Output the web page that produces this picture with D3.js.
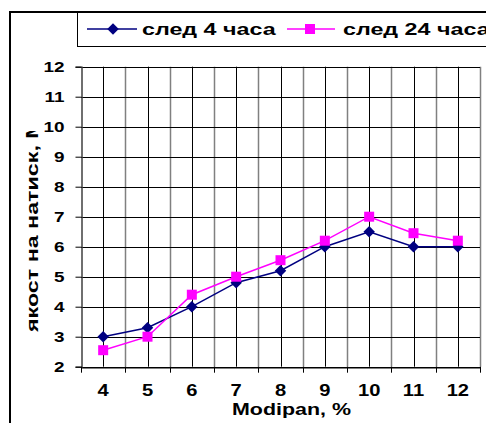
<!DOCTYPE html>
<html><head><meta charset="utf-8">
<script src="https://cdn.jsdelivr.net/npm/d3@7"></script>
<style>body{margin:0;background:#fff}svg{display:block}text{font-family:"Liberation Sans",Arial,sans-serif;font-weight:bold;fill:#000}</style>
</head><body>
<script>
const categories = ["4","5","6","7","8","9","10","11","12"];
const series4h = [3.0, 3.3, 4.0, 4.8, 5.2, 6.0, 6.5, 6.0, 6.0];
const series24h = [2.55, 3.0, 4.4, 5.0, 5.55, 6.2, 7.0, 6.45, 6.2];
const yTicks = [2,3,4,5,6,7,8,9,10,11,12];
const seriesNames = ["след 4 часа", "след 24 часа"];
const xTitle = "Modipan, %";
const yTitle = "якост на натиск, MPa";

const W = 486, H = 423;
const SL = 1.26, SC = 1.37;
const svg = d3.select("body").append("svg").attr("width", W).attr("height", H);
const m = {l:81, r:480, t:66.7, b:366.7};
const x = d3.scaleBand().domain(categories).range([m.l, m.r]);
const y = d3.scaleLinear().domain([2,12]).range([m.b, m.t]);
const cx = c => x(c)+x.bandwidth()/2;
const px = v => Math.round(v)+0.5;

// outer frame
svg.append("rect").attr("x",10).attr("y",12).attr("width",600).attr("height",600)
  .attr("fill","none").attr("stroke","#000").attr("stroke-width",2);

// grid
const g = svg.append("g");
g.selectAll(".vb").data(categories.slice(1).map(c=>x(c)).concat([m.r])).join("line")
  .attr("x1",px).attr("x2",px).attr("y1",m.t).attr("y2",m.b).attr("stroke","#808080").attr("stroke-width",1.5);
g.selectAll(".vc").data(categories).join("line")
  .attr("x1",d=>px(cx(d))).attr("x2",d=>px(cx(d))).attr("y1",m.t).attr("y2",m.b).attr("stroke","#000").attr("stroke-width",1);
g.selectAll(".hg").data(yTicks).join("line")
  .attr("x1",m.l).attr("x2",m.r)
  .attr("y1",d=>px(y(d))).attr("y2",d=>px(y(d)))
  .attr("stroke","#000").attr("stroke-width",1);

// y axis
const ya = svg.append("g").attr("transform",`translate(${px(m.l)},0)`)
  .call(d3.axisLeft(y).tickValues(yTicks).tickSize(6).tickPadding(11).tickFormat(d3.format("d")));
ya.select(".domain").attr("stroke","#404040").attr("stroke-width",1.5);
ya.selectAll(".tick line").attr("stroke","#000");
ya.selectAll("text").attr("font-size",15).attr("font-family","Liberation Sans").attr("font-weight","bold").attr("fill","#000")
  .attr("x",-17/SL).attr("transform",`scale(${SL},1)`);

// x axis
const xa = svg.append("g").attr("transform",`translate(0,${px(m.b)})`)
  .call(d3.axisBottom(x).tickSize(0).tickPadding(17));
xa.select(".domain").attr("stroke","#000");
xa.selectAll("text").attr("font-size",16).attr("font-family","Liberation Sans").attr("font-weight","bold").attr("fill","#000")
  .attr("transform",`scale(${SL},1)`);
svg.append("g").selectAll("line").data(categories.map(c=>x(c)).concat([m.r])).join("line")
  .attr("x1",px).attr("x2",px).attr("y1",m.b).attr("y2",m.b+6).attr("stroke","#000");

// titles
svg.append("text").attr("transform",`translate(291.5,415) scale(${SL},1)`).attr("text-anchor","middle")
  .attr("font-size",17).text(xTitle);
svg.append("clipPath").attr("id","yc").append("rect").attr("x",0).attr("y",131).attr("width",80).attr("height",300);
svg.append("g").attr("clip-path","url(#yc)").append("text")
  .attr("transform",`translate(38,332) rotate(-90) scale(${SC},1)`).attr("text-anchor","start")
  .attr("font-size",17).text(yTitle);

// series
const line = d3.line().x((d,i)=>cx(categories[i])).y(d=>y(d));
svg.append("path").datum(series4h).attr("d",line).attr("fill","none").attr("stroke","#000080").attr("stroke-width",1.5);
svg.append("path").datum(series24h).attr("d",line).attr("fill","none").attr("stroke","#FF00FF").attr("stroke-width",1.5);
const diamond = d3.symbol().type(d3.symbolSquare).size(66);
svg.append("g").selectAll("path").data(series4h).join("path")
  .attr("d",diamond).attr("transform",(d,i)=>`translate(${cx(categories[i])},${y(d)}) rotate(45)`).attr("fill","#000080");
svg.append("g").selectAll("rect").data(series24h).join("rect")
  .attr("x",(d,i)=>cx(categories[i])-5).attr("y",d=>y(d)-5).attr("width",10).attr("height",10).attr("fill","#FF00FF");

// legend
const lg = svg.append("g");
lg.append("rect").attr("x",77.5).attr("y",12).attr("width",500).attr("height",34.5).attr("fill","#fff").attr("stroke","#000").attr("stroke-width",1);
const ly = 29;
lg.append("line").attr("x1",87).attr("x2",137).attr("y1",ly).attr("y2",ly).attr("stroke","#000080").attr("stroke-width",1.5);
lg.append("path").attr("d",diamond).attr("transform",`translate(113,${ly}) rotate(45)`).attr("fill","#000080");
lg.append("text").attr("transform",`translate(142,35) scale(${SC},1)`).attr("font-size",17).text(seriesNames[0]);
lg.append("line").attr("x1",287).attr("x2",335).attr("y1",ly).attr("y2",ly).attr("stroke","#FF00FF").attr("stroke-width",1.5);
lg.append("rect").attr("x",305).attr("y",ly-5).attr("width",10).attr("height",10).attr("fill","#FF00FF");
lg.append("text").attr("transform",`translate(343,35) scale(${SC},1)`).attr("font-size",17).text(seriesNames[1]);
// frame top over legend
svg.append("line").attr("x1",10).attr("x2",W).attr("y1",12).attr("y2",12).attr("stroke","#000").attr("stroke-width",2);
</script>
</body></html>
